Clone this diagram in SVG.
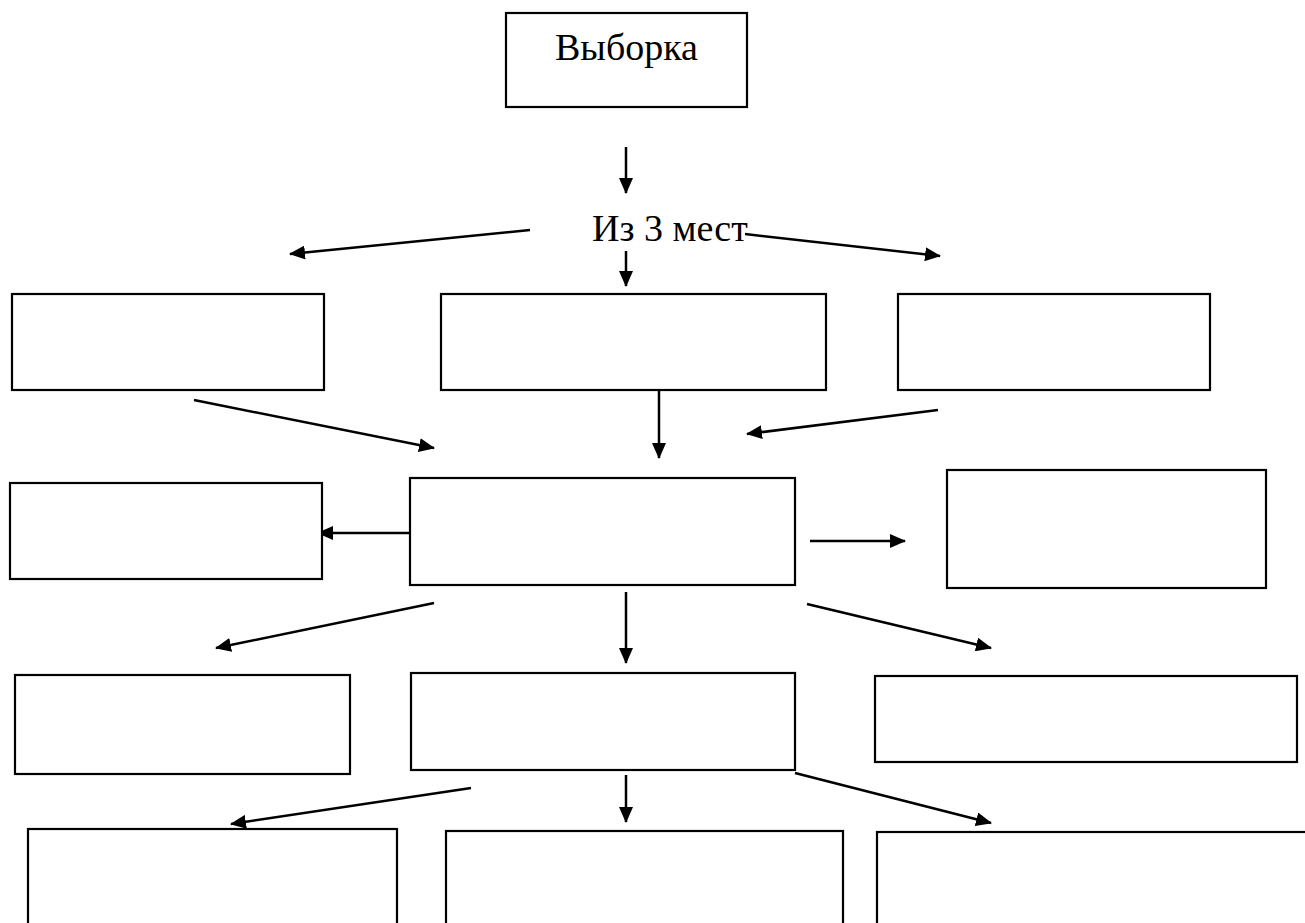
<svg xmlns="http://www.w3.org/2000/svg" width="1305" height="923" viewBox="0 0 1305 923">
<style>
.box{fill:#fff;stroke:#000;stroke-width:2.2}
.ln{stroke:#000;stroke-width:2.5;fill:none;marker-end:url(#ah)}
.t{font-family:"Liberation Serif","Times New Roman",serif;font-size:38px;fill:#000}
</style>
<defs>
<marker id="ah" viewBox="0 0 16 14" refX="15" refY="7" markerWidth="16" markerHeight="14" markerUnits="userSpaceOnUse" orient="auto">
<path d="M0,0 L16,7 L0,14 z" fill="#000"/>
</marker>
</defs>
<rect width="1305" height="923" fill="#fff"/>
<g id="connectors">
<line class="ln" x1="626" y1="147" x2="626" y2="193"/>
<line class="ln" x1="530" y1="230" x2="290" y2="254"/>
<line class="ln" x1="745" y1="234" x2="940" y2="256"/>
<line class="ln" x1="626" y1="251" x2="626" y2="286"/>
<line class="ln" x1="194" y1="400" x2="434" y2="448"/>
<line class="ln" x1="659" y1="386" x2="659" y2="458"/>
<line class="ln" x1="938" y1="410" x2="747" y2="434"/>
<line class="ln" x1="410" y1="533" x2="318" y2="533"/>
<line class="ln" x1="810" y1="541" x2="905" y2="541"/>
<line class="ln" x1="434" y1="603" x2="216" y2="648"/>
<line class="ln" x1="626" y1="592" x2="626" y2="663"/>
<line class="ln" x1="807" y1="604" x2="991" y2="648"/>
<line class="ln" x1="471" y1="788" x2="231" y2="824"/>
<line class="ln" x1="626" y1="775" x2="626" y2="822"/>
<line class="ln" x1="795" y1="773" x2="991" y2="823"/>
</g>
<g id="n-vyborka"><rect class="box" x="506" y="13" width="241" height="94"/><text class="t" x="626.5" y="60" text-anchor="middle">Выборка</text></g>
<g id="n-iz3"><text class="t" x="592" y="241">Из 3 мест</text></g>
<g id="n-r1a"><rect class="box" x="12" y="294" width="312" height="96"/></g>
<g id="n-r1b"><rect class="box" x="441" y="294" width="385" height="96"/></g>
<g id="n-r1c"><rect class="box" x="898" y="294" width="312" height="96"/></g>
<g id="n-r2a"><rect class="box" x="10" y="483" width="312" height="96"/></g>
<g id="n-r2b"><rect class="box" x="410" y="478" width="385" height="107"/></g>
<g id="n-r2c"><rect class="box" x="947" y="470" width="319" height="118"/></g>
<g id="n-r3a"><rect class="box" x="15" y="675" width="335" height="99"/></g>
<g id="n-r3b"><rect class="box" x="411" y="673" width="384" height="97"/></g>
<g id="n-r3c"><rect class="box" x="875" y="676" width="422" height="86"/></g>
<g id="n-r4a"><rect class="box" x="28" y="829" width="369" height="120"/></g>
<g id="n-r4b"><rect class="box" x="446" y="831" width="397" height="120"/></g>
<g id="n-r4c"><rect class="box" x="877" y="832" width="460" height="120"/></g>
</svg>
